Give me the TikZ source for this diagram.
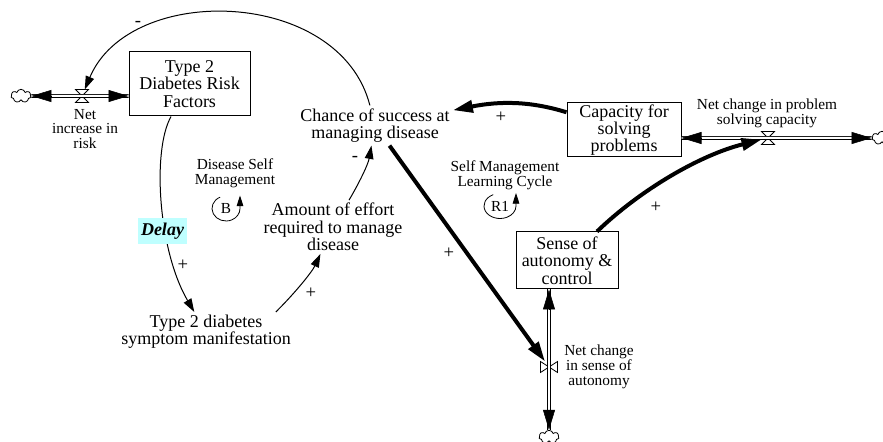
\documentclass[tikz,border=0pt]{standalone}
\usepackage{fontspec}
\setmainfont{Liberation Serif}
\usetikzlibrary{arrows.meta,shapes.symbols,calc}

\newcommand{\dgmbig}{\fontsize{13.5}{13}\selectfont}
\newcommand{\dgmsmall}{\fontsize{11.5}{11}\selectfont}

\tikzset{every picture/.style={line width=0.75pt}}
\tikzset{
	stock/.style={draw, rectangle, align=center, inner sep=0pt, font=\dgmbig},
	var/.style={align=center, font=\dgmbig, inner sep=2pt},
	lbl/.style={align=center, font=\dgmsmall, inner sep=1pt},
	sign/.style={font=\fontsize{14}{14}\selectfont, inner sep=0pt},
	looplbl/.style={font=\dgmsmall, inner sep=0pt},
	link/.style={-{Triangle[length=10pt,width=6.5pt]}, line width=0.75pt},
	heavy link/.style={-{Triangle[length=15pt,width=9pt]}, line width=3pt},
	loop arrow/.style={-{Triangle[length=8pt,width=5pt]}, line width=0.6pt},
	pipe/.style={double, double distance=1.5pt, line width=0.6pt},
	flowhead/.style={-{Triangle[length=15pt,width=9pt]}, line width=0.4pt},
	valve h/.style={inner sep=0pt, minimum width=9pt, minimum height=9pt},
	valve v/.style={inner sep=0pt, minimum width=12pt, minimum height=7.5pt},
	valve line/.style={line width=0.6pt},
	cloudy/.style={cloud, draw, cloud puffs=7, aspect=1.6, inner sep=0pt, minimum width=15pt, minimum height=10pt, line width=0.6pt},
	delaybox/.style={fill={rgb, 255:red, 191; green, 255; blue, 255}, font=\dgmbig\bfseries\itshape, inner xsep=2.5pt, minimum height=16.5pt}
}

\begin{document}
\begin{tikzpicture}[x=0.75pt,y=0.75pt,yscale=-1,xscale=1]
	\useasboundingbox (0,0) rectangle (883,442);

	%Shape: Rectangle
	\node[stock, minimum width=90.75pt, minimum height=48pt] (risk) at (189.5,84) {Type 2\\Diabetes Risk\\Factors};
	%Shape: Rectangle
	\node[stock, minimum width=85.5pt, minimum height=40.5pt] (cap) at (624,130) {Capacity for\\solving\\problems};
	%Shape: Rectangle
	\node[stock, minimum width=76.5pt, minimum height=42.75pt] (sense) at (567,260.5) {Sense of\\autonomy \&\\control};

	% Text Node
	\node[var] (chance) at (375,125.5) {Chance of success at\\managing disease};
	% Text Node
	\node[var] (effort) at (333,227) {Amount of effort\\required to manage\\disease};
	% Text Node
	\node[var] (symptom) at (206,332) {Type 2 diabetes\\symptom manifestation};

	%Shape: Cloud
	\node[cloudy] (cloudL) at (21,96) {};
	\node[cloudy] (cloudR) at (882,138) {};
	\node[cloudy] (cloudB) at (549,437) {};

	%Shape: Valve
	\node[valve h] (vrisk) at (82,96) {};
	\draw[valve line] (vrisk.north west) -- (vrisk.north east) -- (vrisk.south west) -- (vrisk.south east) -- cycle;
	\node[valve h] (vcap) at (768,138) {};
	\draw[valve line] (vcap.north west) -- (vcap.north east) -- (vcap.south west) -- (vcap.south east) -- cycle;
	\node[valve v] (vsense) at (549,367) {};
	\draw[valve line] (vsense.north west) -- (vsense.south west) -- (vsense.north east) -- (vsense.south east) -- cycle;

	%Pipes
	\draw[pipe] (cloudL) -- (vrisk.center) -- (vrisk.center -| risk.west);
	\draw[flowhead] ($(cloudL.east)+(20,0)$) -- (cloudL.east);
	\draw[flowhead] ($(vrisk.center -| risk.west)+(-20,0)$) -- (vrisk.center -| risk.west);
	\draw[pipe] (vcap.center -| cap.east) -- (vcap.center) -- (cloudR);
	\draw[flowhead] ($(vcap.center -| cap.east)+(20,0)$) -- (vcap.center -| cap.east);
	\draw[flowhead] ($(cloudR.west)+(-20,0)$) -- (cloudR.west);
	\draw[pipe] (vsense.center |- sense.south) -- (vsense.center) -- (cloudB);
	\draw[flowhead] ($(vsense.center |- sense.south)+(0,20)$) -- (vsense.center |- sense.south);
	\draw[flowhead] ($(cloudB.north)+(0,-20)$) -- (cloudB.north);

	% Text Node
	\node[lbl] (netrisk) at (85,129) {Net\\increase in\\risk};
	% Text Node
	\node[lbl] (netcap) at (767,113.5) {Net change in problem\\solving capacity};
	% Text Node
	\node[lbl] (netsense) at (599,367) {Net change\\in sense of\\autonomy};

	%Curve Lines
	\draw[link] (chance) .. controls (340,-12) and (130,-18) .. (vrisk);
	\draw[link] (risk) .. controls (152,150) and (158,250) .. (symptom);
	\draw[link] (symptom.16) .. controls (295,293) and (312,272) .. (effort);
	\draw[link] (effort) .. controls (358,185) and (368,165) .. (chance);
	\draw[heavy link] (chance) -- (vsense);
	\draw[heavy link] (cap) .. controls (530,101) and (500,101) .. (chance);
	\draw[heavy link] (sense) .. controls (640,190) and (700,155) .. (vcap);

	% Delay mark
	\node[delaybox] (dly) at (162.5,231) {Delay};

	% Text Node
	\node[sign] (s1) at (138,24) {-};
	\node[sign] (s2) at (501,117) {+};
	\node[sign] (s3) at (656,207) {+};
	\node[sign] (s4) at (449,253) {+};
	\node[sign] (s5) at (355,159) {-};
	\node[sign] (s6) at (311,293) {+};
	\node[sign] (s7) at (183,265) {+};

	% Loop labels
	\node[lbl] (nameB) at (235,173.5) {Disease Self\\Management};
	\node[lbl] (nameR) at (505,175) {Self Management\\Learning Cycle};
	\node[looplbl] (loopB) at (226,208.5) {B};
	\draw[loop arrow] ($(loopB)+(-115:14 and 12.5)$) arc[start angle=-115, end angle=-360, x radius=14, y radius=12.5] -- ++(0,-13);
	\node[looplbl] (loopR) at (500,206) {R1};
	\draw[loop arrow] ($(loopR)+(-115:16 and 12.5)$) arc[start angle=-115, end angle=-360, x radius=16, y radius=12.5] -- ++(0,-13);

\end{tikzpicture}
\end{document}
